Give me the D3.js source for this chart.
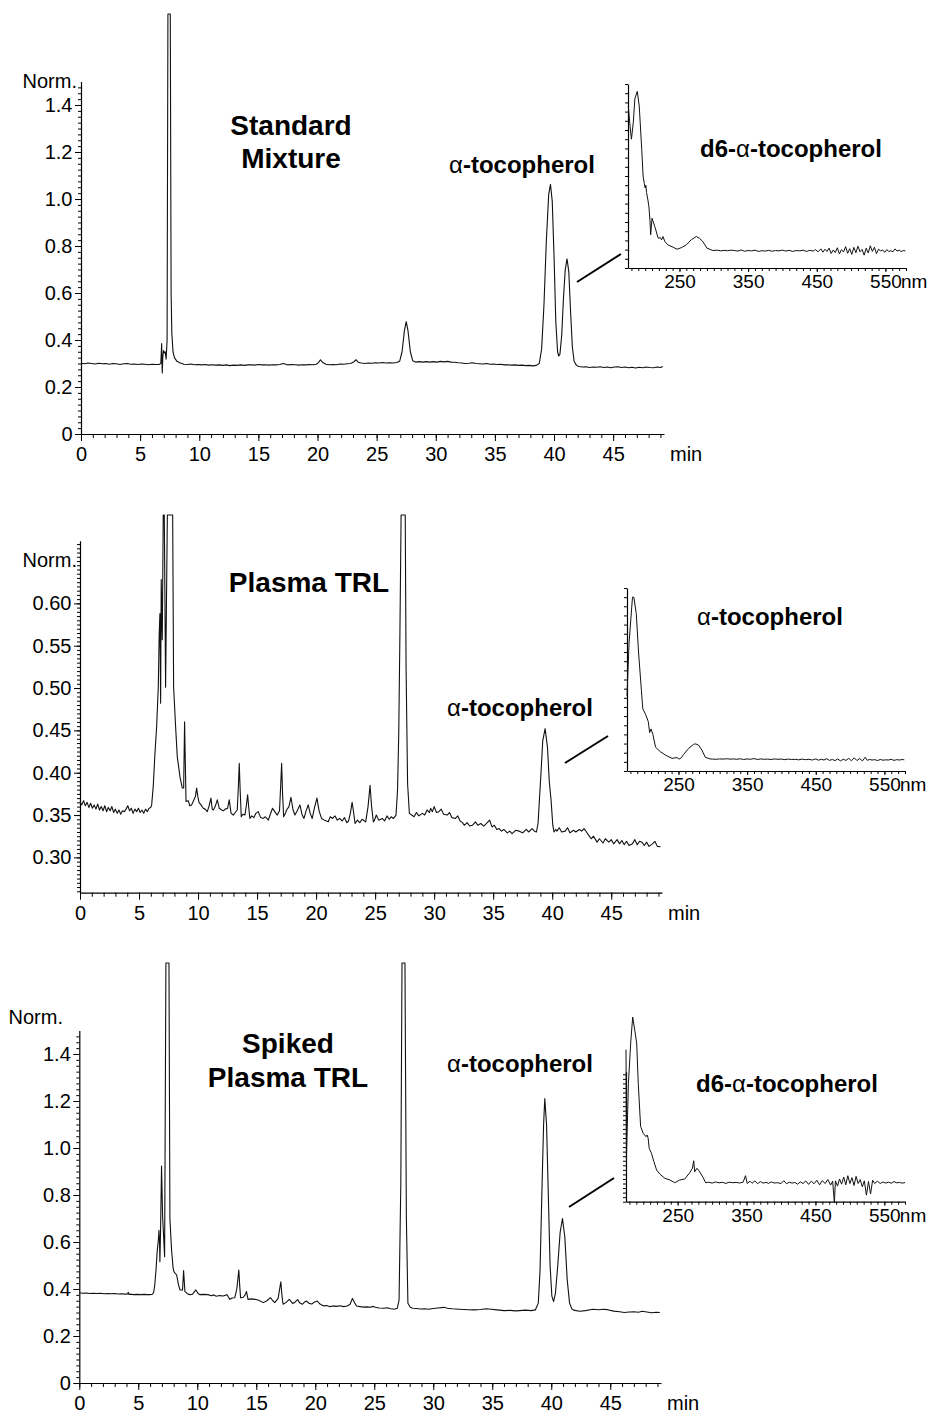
<!DOCTYPE html>
<html><head><meta charset="utf-8">
<script src="https://cdn.jsdelivr.net/npm/d3@7"></script>
<style>
body{margin:0;background:#fff}
svg text{font-family:"Liberation Sans",Arial,Helvetica,sans-serif;fill:#000}
</style></head><body>
<svg id="c" width="930" height="1414"></svg>
<script>
// ---------------- DATA ----------------
const timeTicks = [0,5,10,15,20,25,30,35,40,45];
const normTicks = [0,0.2,0.4,0.6,0.8,1.0,1.2,1.4];
const trlTicks = [0.30,0.35,0.40,0.45,0.50,0.55,0.60];
const nmTicks = [250,350,450,550];

// [time (min), absorbance (Norm.)]
const standardMixture = [[0,0.301],[0.3,0.299],[0.6,0.302],[0.9,0.300],[1.2,0.298],[1.5,0.301],[1.8,0.299],[2.1,0.300],[2.4,0.297],[2.7,0.300],[3.0,0.299],[3.3,0.296],[3.6,0.299],[3.9,0.300],[4.2,0.297],[4.5,0.298],[4.8,0.296],[5.1,0.298],[5.4,0.297],[5.7,0.295],[6.0,0.297],[6.3,0.296],[6.6,0.296],[6.75,0.300],[6.82,0.385],[6.87,0.260],[6.92,0.330],[6.98,0.355],[7.05,0.345],[7.12,0.350],[7.2,0.318],[7.28,0.400],[7.35,2.0],[7.55,2.0],[7.62,0.600],[7.68,0.430],[7.78,0.350],[7.9,0.325],[8.1,0.310],[8.4,0.302],[8.7,0.297],[9.0,0.296],[9.3,0.298],[9.6,0.295],[9.9,0.296],[10.2,0.294],[10.5,0.296],[10.8,0.293],[11.1,0.295],[11.4,0.293],[11.7,0.294],[12.0,0.292],[12.3,0.294],[12.6,0.291],[12.9,0.293],[13.2,0.292],[13.5,0.294],[13.8,0.292],[14.1,0.294],[14.4,0.295],[14.7,0.293],[15.0,0.296],[15.3,0.294],[15.6,0.295],[15.9,0.293],[16.2,0.295],[16.5,0.294],[16.8,0.296],[17.1,0.300],[17.25,0.298],[17.5,0.294],[17.8,0.296],[18.1,0.295],[18.4,0.293],[18.7,0.295],[19.0,0.294],[19.3,0.296],[19.6,0.295],[19.9,0.297],[20.1,0.305],[20.25,0.316],[20.45,0.304],[20.7,0.297],[21.0,0.295],[21.3,0.296],[21.6,0.295],[21.9,0.298],[22.2,0.297],[22.5,0.299],[22.8,0.300],[23.05,0.306],[23.25,0.316],[23.45,0.305],[23.7,0.302],[24.0,0.300],[24.3,0.302],[24.6,0.301],[24.9,0.303],[25.2,0.302],[25.5,0.304],[25.8,0.302],[26.1,0.303],[26.4,0.302],[26.7,0.304],[26.95,0.310],[27.15,0.350],[27.35,0.440],[27.5,0.478],[27.65,0.440],[27.85,0.350],[28.05,0.312],[28.3,0.306],[28.6,0.308],[28.9,0.306],[29.2,0.308],[29.5,0.306],[29.8,0.308],[30.1,0.306],[30.4,0.309],[30.7,0.307],[31.0,0.309],[31.3,0.306],[31.6,0.305],[31.9,0.303],[32.2,0.302],[32.5,0.300],[32.8,0.301],[33.1,0.303],[33.4,0.300],[33.7,0.299],[34.0,0.298],[34.3,0.300],[34.6,0.297],[34.9,0.298],[35.2,0.296],[35.5,0.297],[35.8,0.294],[36.1,0.295],[36.4,0.293],[36.7,0.294],[37.0,0.292],[37.3,0.293],[37.6,0.291],[37.9,0.292],[38.2,0.290],[38.5,0.292],[38.75,0.300],[38.95,0.360],[39.15,0.550],[39.35,0.820],[39.55,1.020],[39.7,1.062],[39.85,0.990],[40.0,0.760],[40.15,0.480],[40.3,0.350],[40.4,0.332],[40.5,0.340],[40.65,0.420],[40.8,0.580],[40.95,0.700],[41.1,0.745],[41.25,0.690],[41.4,0.520],[41.55,0.370],[41.7,0.310],[41.9,0.292],[42.1,0.287],[42.4,0.285],[42.7,0.286],[43.0,0.283],[43.3,0.285],[43.6,0.284],[43.9,0.286],[44.2,0.283],[44.5,0.285],[44.8,0.282],[45.1,0.285],[45.4,0.286],[45.7,0.283],[46.0,0.285],[46.3,0.282],[46.6,0.284],[46.9,0.281],[47.2,0.284],[47.5,0.282],[47.8,0.285],[48.1,0.283],[48.4,0.282],[48.7,0.285],[49.0,0.283],[49.2,0.287]];

const plasmaTRL = [[0,0.366],[0.15,0.362],[0.3,0.367],[0.45,0.361],[0.6,0.365],[0.75,0.359],[0.9,0.364],[1.05,0.358],[1.2,0.362],[1.35,0.357],[1.5,0.363],[1.65,0.356],[1.8,0.360],[1.95,0.355],[2.1,0.361],[2.25,0.354],[2.4,0.359],[2.55,0.355],[2.7,0.360],[2.85,0.353],[3.0,0.357],[3.15,0.352],[3.3,0.356],[3.45,0.351],[3.6,0.355],[3.75,0.354],[3.9,0.357],[4.05,0.361],[4.2,0.355],[4.35,0.358],[4.5,0.352],[4.65,0.357],[4.8,0.354],[4.95,0.358],[5.1,0.353],[5.25,0.356],[5.4,0.352],[5.55,0.357],[5.7,0.354],[5.85,0.358],[6.0,0.359],[6.07,0.362],[6.2,0.383],[6.35,0.423],[6.49,0.454],[6.63,0.501],[6.71,0.564],[6.77,0.588],[6.83,0.482],[6.88,0.628],[6.97,0.557],[7.05,1.0],[7.14,1.0],[7.25,0.501],[7.4,1.0],[7.85,1.0],[7.93,0.501],[8.1,0.454],[8.24,0.419],[8.47,0.395],[8.66,0.382],[8.78,0.382],[8.86,0.460],[8.98,0.366],[9.17,0.367],[9.3,0.361],[9.46,0.362],[9.65,0.368],[9.78,0.372],[9.88,0.382],[9.98,0.372],[10.08,0.365],[10.25,0.362],[10.44,0.358],[10.6,0.357],[10.78,0.354],[10.92,0.360],[11.09,0.370],[11.2,0.357],[11.29,0.356],[11.45,0.360],[11.63,0.368],[11.8,0.358],[12.0,0.356],[12.15,0.355],[12.3,0.357],[12.5,0.358],[12.64,0.368],[12.8,0.352],[12.98,0.350],[13.15,0.353],[13.32,0.356],[13.42,0.385],[13.49,0.411],[13.57,0.378],[13.66,0.348],[13.8,0.351],[13.97,0.350],[14.1,0.362],[14.2,0.374],[14.3,0.358],[14.39,0.346],[14.55,0.349],[14.73,0.347],[14.9,0.352],[15.1,0.354],[15.3,0.347],[15.52,0.346],[15.7,0.348],[15.95,0.344],[16.1,0.350],[16.31,0.358],[16.5,0.354],[16.71,0.350],[16.9,0.355],[17.0,0.385],[17.08,0.411],[17.16,0.375],[17.25,0.348],[17.4,0.352],[17.5,0.356],[17.7,0.360],[17.87,0.371],[18.05,0.356],[18.2,0.350],[18.4,0.355],[18.63,0.362],[18.8,0.351],[18.97,0.346],[19.15,0.355],[19.33,0.362],[19.5,0.352],[19.67,0.346],[19.85,0.358],[20.07,0.370],[20.25,0.355],[20.46,0.346],[20.7,0.344],[21.03,0.342],[21.2,0.348],[21.4,0.346],[21.6,0.349],[21.8,0.344],[22.0,0.346],[22.2,0.343],[22.4,0.347],[22.6,0.341],[22.75,0.343],[22.9,0.352],[23.05,0.365],[23.15,0.356],[23.3,0.340],[23.5,0.344],[23.7,0.341],[23.9,0.345],[24.2,0.342],[24.4,0.360],[24.57,0.385],[24.7,0.360],[24.85,0.342],[24.95,0.344],[25.1,0.350],[25.3,0.344],[25.6,0.346],[25.8,0.343],[26.0,0.349],[26.2,0.345],[26.35,0.348],[26.55,0.346],[26.77,0.350],[26.9,0.380],[27.0,0.446],[27.1,0.565],[27.2,1.0],[27.55,1.0],[27.62,0.525],[27.75,0.387],[27.9,0.352],[28.1,0.350],[28.3,0.348],[28.5,0.353],[28.7,0.349],[29.0,0.352],[29.2,0.350],[29.4,0.356],[29.6,0.353],[29.7,0.358],[29.85,0.354],[30.0,0.360],[30.2,0.353],[30.4,0.354],[30.6,0.357],[30.8,0.351],[31.1,0.350],[31.3,0.353],[31.5,0.347],[31.8,0.346],[32.0,0.349],[32.2,0.343],[32.4,0.341],[32.55,0.338],[32.8,0.341],[33.0,0.337],[33.25,0.338],[33.5,0.342],[33.7,0.338],[33.95,0.340],[34.2,0.337],[34.5,0.341],[34.7,0.344],[34.9,0.336],[35.1,0.338],[35.3,0.333],[35.5,0.334],[35.7,0.331],[35.9,0.333],[36.2,0.329],[36.4,0.331],[36.6,0.328],[36.9,0.332],[37.2,0.331],[37.5,0.329],[37.8,0.333],[38.0,0.330],[38.3,0.334],[38.5,0.331],[38.66,0.330],[38.8,0.340],[38.9,0.364],[39.05,0.400],[39.2,0.438],[39.4,0.452],[39.6,0.430],[39.75,0.390],[39.9,0.368],[40.05,0.338],[40.15,0.330],[40.3,0.333],[40.4,0.331],[40.6,0.335],[40.8,0.330],[41.1,0.331],[41.3,0.335],[41.5,0.329],[41.8,0.332],[42.0,0.330],[42.3,0.333],[42.5,0.331],[42.7,0.334],[42.9,0.330],[43.1,0.326],[43.3,0.322],[43.5,0.325],[43.8,0.318],[44.0,0.322],[44.3,0.317],[44.5,0.322],[44.8,0.318],[45.0,0.321],[45.2,0.316],[45.5,0.321],[45.7,0.316],[45.9,0.320],[46.1,0.315],[46.3,0.319],[46.5,0.314],[46.8,0.316],[47.0,0.321],[47.2,0.315],[47.4,0.319],[47.6,0.318],[47.8,0.314],[48.0,0.318],[48.2,0.313],[48.5,0.316],[48.7,0.319],[48.9,0.313],[49.17,0.3125]];

const spikedTRL = [[0,0.384],[0.3,0.382],[0.6,0.383],[0.9,0.381],[1.2,0.382],[1.5,0.381],[1.8,0.382],[2.1,0.380],[2.4,0.381],[2.7,0.380],[3.0,0.381],[3.3,0.379],[3.6,0.380],[3.9,0.378],[4.1,0.379],[4.15,0.386],[4.2,0.377],[4.4,0.378],[4.6,0.376],[4.9,0.377],[5.2,0.376],[5.5,0.377],[5.8,0.376],[6.0,0.376],[6.2,0.378],[6.3,0.385],[6.4,0.420],[6.5,0.480],[6.6,0.560],[6.7,0.608],[6.75,0.650],[6.8,0.600],[6.83,0.516],[6.88,0.630],[6.97,0.923],[7.06,0.708],[7.15,0.620],[7.23,0.537],[7.34,2.5],[7.6,2.5],[7.68,0.700],[7.82,0.566],[7.95,0.490],[8.02,0.474],[8.15,0.465],[8.25,0.460],[8.4,0.420],[8.53,0.396],[8.75,0.396],[8.84,0.478],[8.95,0.390],[9.15,0.380],[9.37,0.376],[9.6,0.378],[9.88,0.396],[10.05,0.382],[10.2,0.376],[10.5,0.377],[10.9,0.376],[11.2,0.371],[11.4,0.375],[11.6,0.369],[11.9,0.372],[12.2,0.370],[12.5,0.376],[12.65,0.365],[12.76,0.356],[12.95,0.362],[13.18,0.363],[13.35,0.400],[13.52,0.481],[13.6,0.410],[13.67,0.363],[13.9,0.365],[14.05,0.375],[14.17,0.389],[14.3,0.356],[14.6,0.358],[14.9,0.356],[15.2,0.352],[15.6,0.342],[15.9,0.350],[16.2,0.363],[16.4,0.350],[16.57,0.342],[16.85,0.360],[17.08,0.431],[17.18,0.370],[17.27,0.335],[17.5,0.342],[17.8,0.356],[18.1,0.338],[18.3,0.345],[18.5,0.355],[18.7,0.340],[18.9,0.335],[19.1,0.345],[19.25,0.349],[19.5,0.338],[19.7,0.336],[19.95,0.345],[20.15,0.349],[20.4,0.336],[20.7,0.328],[21.0,0.330],[21.2,0.325],[21.5,0.328],[21.8,0.326],[22.1,0.329],[22.4,0.325],[22.7,0.328],[22.95,0.335],[23.15,0.360],[23.35,0.340],[23.5,0.328],[23.8,0.325],[24.1,0.323],[24.4,0.324],[24.65,0.322],[24.9,0.326],[25.1,0.322],[25.4,0.319],[25.8,0.318],[26.1,0.320],[26.4,0.316],[26.7,0.314],[26.95,0.318],[27.1,0.353],[27.25,0.850],[27.35,2.5],[27.6,2.5],[27.72,0.700],[27.85,0.339],[28.05,0.322],[28.25,0.318],[28.6,0.317],[28.9,0.315],[29.3,0.316],[29.6,0.314],[30.0,0.317],[30.4,0.319],[30.9,0.322],[31.2,0.318],[31.6,0.316],[32.2,0.314],[32.6,0.313],[33.0,0.312],[33.5,0.311],[34.0,0.313],[34.5,0.316],[34.9,0.314],[35.4,0.311],[36.0,0.308],[36.5,0.309],[37.0,0.307],[37.3,0.308],[37.8,0.310],[38.3,0.308],[38.65,0.311],[38.9,0.340],[39.05,0.480],[39.2,0.800],[39.35,1.100],[39.45,1.210],[39.6,1.100],[39.75,0.800],[39.9,0.500],[40.05,0.370],[40.2,0.347],[40.35,0.380],[40.55,0.500],[40.75,0.640],[40.95,0.700],[41.15,0.620],[41.35,0.440],[41.55,0.340],[41.75,0.315],[41.9,0.310],[42.4,0.305],[42.9,0.308],[43.3,0.312],[43.55,0.314],[44.0,0.312],[44.5,0.314],[44.85,0.311],[45.3,0.306],[45.8,0.303],[46.2,0.300],[46.6,0.302],[47.0,0.303],[47.4,0.301],[47.7,0.305],[48.1,0.302],[48.5,0.299],[48.9,0.301],[49.2,0.300]];

// UV spectra: [wavelength (nm), relative absorbance]
const spectrumD6Standard = [[175.5,0.878],[178,0.77],[180,0.70],[182.7,0.79],[185,0.92],[188.5,0.96],[191.4,0.88],[195,0.645],[197,0.50],[198.7,0.46],[200,0.435],[201,0.45],[202,0.41],[204,0.37],[205.4,0.335],[207,0.26],[208,0.18],[210,0.27],[214,0.226],[219,0.162],[222,0.165],[224,0.153],[226,0.171],[228.6,0.144],[233,0.126],[240.7,0.113],[246.5,0.102],[253,0.111],[260,0.126],[267,0.153],[274.6,0.171],[279,0.162],[284,0.144],[290,0.108],[298.6,0.095],[305,0.097],[310,0.093],[315,0.096],[320,0.094],[325,0.097],[330,0.095],[335,0.092],[340,0.098],[345,0.091],[350,0.095],[355,0.093],[360,0.097],[365,0.090],[370,0.094],[375,0.092],[380,0.096],[385,0.091],[390,0.095],[395,0.093],[400,0.097],[405,0.092],[410,0.096],[415,0.090],[420,0.095],[425,0.093],[430,0.097],[435,0.090],[440,0.096],[445,0.092],[448,0.100],[452,0.088],[456,0.104],[459,0.086],[462,0.102],[465,0.090],[468,0.108],[471,0.079],[474,0.098],[477,0.084],[480,0.110],[483,0.076],[486,0.100],[489,0.087],[492,0.116],[495,0.080],[498,0.105],[501,0.074],[504,0.112],[507,0.083],[510,0.118],[513,0.088],[516,0.101],[519,0.070],[522,0.108],[525,0.082],[528,0.121],[531,0.090],[534,0.113],[537,0.078],[540,0.102],[543,0.093],[546,0.098],[549,0.085],[552,0.100],[555,0.090],[558,0.094],[561,0.088],[564,0.104],[567,0.092],[570,0.097],[573,0.089],[576,0.095],[579,0.093]];

const spectrumAlphaTRL = [[175,0.41],[178,0.70],[183,0.95],[185,0.95],[188.5,0.86],[192,0.64],[196,0.44],[198,0.34],[202,0.31],[206,0.27],[208,0.21],[210,0.23],[212.7,0.20],[216.6,0.13],[220,0.118],[223.8,0.105],[231,0.087],[240.6,0.069],[245,0.072],[248,0.073],[251,0.065],[254,0.072],[257.6,0.091],[265,0.124],[272,0.146],[275,0.148],[279,0.142],[284,0.115],[289,0.075],[296,0.066],[300,0.065],[305,0.064],[310,0.066],[315,0.065],[320,0.067],[325,0.065],[330,0.066],[335,0.064],[340,0.067],[345,0.063],[350,0.066],[355,0.064],[360,0.068],[365,0.063],[370,0.066],[375,0.064],[380,0.065],[385,0.063],[390,0.066],[395,0.064],[400,0.065],[405,0.062],[410,0.065],[415,0.063],[420,0.064],[425,0.061],[430,0.065],[435,0.062],[440,0.064],[445,0.060],[450,0.066],[454,0.059],[458,0.064],[462,0.060],[466,0.067],[470,0.058],[474,0.063],[478,0.057],[482,0.066],[486,0.055],[490,0.064],[494,0.058],[498,0.069],[502,0.056],[506,0.072],[510,0.057],[514,0.068],[518,0.055],[522,0.075],[525,0.058],[528,0.063],[532,0.060],[536,0.062],[540,0.057],[544,0.063],[548,0.059],[552,0.061],[556,0.060],[560,0.064],[564,0.058],[568,0.062],[572,0.060],[576,0.063],[579,0.061]];

const spectrumD6Spiked = [[175,1.17],[175.6,0.33],[178.5,0.91],[181.8,1.22],[184.7,1.42],[188,1.31],[190.5,1.22],[192.8,0.91],[196.2,0.58],[200,0.526],[204,0.50],[205.8,0.513],[207.2,0.487],[208.7,0.41],[212,0.372],[215.5,0.308],[219.4,0.244],[224,0.213],[231.4,0.18],[238.6,0.167],[245.8,0.146],[253,0.167],[260.3,0.175],[267.5,0.223],[271.4,0.257],[273.3,0.315],[274.7,0.23],[278,0.257],[282,0.23],[286.7,0.188],[290.6,0.146],[295,0.150],[300,0.143],[305,0.152],[310,0.145],[315,0.149],[320,0.141],[325,0.150],[330,0.146],[335,0.148],[340,0.144],[345,0.150],[348.5,0.200],[351,0.140],[355,0.158],[358,0.142],[362,0.160],[366,0.138],[370,0.155],[374,0.143],[378,0.149],[382,0.141],[386,0.152],[390,0.144],[395,0.146],[400,0.140],[404,0.162],[408,0.138],[412,0.150],[416,0.143],[420,0.148],[424,0.135],[428,0.152],[432,0.140],[436,0.160],[440,0.133],[444,0.158],[448,0.138],[452,0.165],[456,0.130],[460,0.162],[464,0.140],[468,0.170],[472,0.128],[475,0.158],[477.5,-0.010],[479,0.160],[482,0.120],[485,0.175],[488,0.135],[491,0.190],[494,0.130],[497,0.200],[500,0.140],[503,0.185],[506,0.125],[509,0.195],[512,0.140],[515,0.170],[518,0.115],[521,0.160],[524,0.050],[527,0.155],[530,0.060],[533,0.165],[536,0.140],[540,0.158],[544,0.140],[548,0.152],[552,0.143],[556,0.150],[560,0.142],[564,0.155],[568,0.145],[572,0.148],[576,0.143],[580,0.147]];

// ---------------- DRAWING ----------------
const svg = d3.select("#c");
const FONT = '"Liberation Sans",Arial,Helvetica,sans-serif';

function styleAxis(g, size){
  g.attr("font-size", size).attr("font-family", FONT);
  g.selectAll("path.domain").attr("stroke","#000").attr("stroke-width",1.2);
  g.selectAll(".tick line").attr("stroke","#000").attr("stroke-width",1);
  g.selectAll(".tick text").attr("fill","#000");
}

function chromatogram(cfg, data){
  const x = d3.scaleLinear().domain([0,49.3]).range([cfg.x0, cfg.x1]);
  const y = d3.scaleLinear().domain(cfg.yDom).range([cfg.yBot, cfg.yTop]);
  const g = svg.append("g");
  g.append("g").attr("transform",`translate(0,${cfg.yBot})`)
    .call(d3.axisBottom(x).tickValues(d3.range(0,50,1)).tickSize(4).tickFormat(""))
    .call(a=>a.select(".domain").remove()).call(a=>styleAxis(a,20));
  const xa = g.append("g").attr("transform",`translate(0,${cfg.yBot})`)
    .call(d3.axisBottom(x).tickValues(timeTicks).tickSize(7).tickSizeOuter(0).tickPadding(6));
  styleAxis(xa,20);
  xa.append("text").attr("x", cfg.x1+6).attr("y",13).attr("dy","0.71em")
    .attr("text-anchor","start").attr("fill","#000").text("min");
  g.append("g").attr("transform",`translate(${cfg.x0},0)`)
    .call(d3.axisLeft(y).tickValues(d3.range(cfg.minor[0], cfg.yDom[1], cfg.minor[1])).tickSize(3).tickFormat(""))
    .call(a=>a.select(".domain").remove()).call(a=>styleAxis(a,20));
  const ya = g.append("g").attr("transform",`translate(${cfg.x0},0)`)
    .call(d3.axisLeft(y).tickValues(cfg.ticks).tickFormat(cfg.fmt).tickSize(6).tickSizeOuter(0).tickPadding(2.5));
  styleAxis(ya,20);
  svg.append("text").attr("x",cfg.norm[0]).attr("y",cfg.norm[1]).attr("dy","0.35em")
    .attr("text-anchor","end").attr("font-size",20).text("Norm.");
  const line = d3.line().x(d=>x(d[0])).y(d=>Math.max(cfg.clipTop, y(d[1])));
  g.append("path").datum(data).attr("d",line).attr("fill","none")
    .attr("stroke","#111").attr("stroke-width",1.1).attr("stroke-linejoin","round");
}

function spectrum(cfg, data){
  const x = d3.scaleLinear().domain([175,580]).range([cfg.x0, cfg.x1]);
  const y = d3.scaleLinear().domain([0,1]).range([cfg.yBot, cfg.yTop]);
  const g = svg.append("g");
  g.append("g").attr("transform",`translate(0,${cfg.yBot})`)
    .call(d3.axisBottom(x).tickValues(d3.range(180,581,10)).tickSize(3).tickFormat(""))
    .call(a=>a.select(".domain").remove()).call(a=>styleAxis(a,19));
  const xa = g.append("g").attr("transform",`translate(0,${cfg.yBot})`)
    .call(d3.axisBottom(x).tickValues(nmTicks).tickSize(4).tickSizeOuter(0).tickPadding(3));
  styleAxis(xa,19);
  xa.append("text").attr("x", x(550)+15.5).attr("y",7).attr("dy","0.71em")
    .attr("text-anchor","start").attr("fill","#000").text("nm");
  const ya = g.append("g").attr("transform",`translate(${cfg.x0},0)`)
    .call(d3.axisLeft(y).tickValues(d3.range(0,1.0001,cfg.yStep)).tickSize(3).tickSizeOuter(0).tickFormat(""));
  styleAxis(ya,19);
  const line = d3.line().x(d=>x(d[0])).y(d=>y(d[1]));
  g.append("path").datum(data).attr("d",line).attr("fill","none")
    .attr("stroke","#111").attr("stroke-width",1).attr("stroke-linejoin","round");
}

function label(txt, x, y, size){
  svg.append("text").attr("x",x).attr("y",y).attr("text-anchor","middle")
    .attr("font-size",size).attr("font-weight","bold").text(txt);
}
function alphaLabel(prefix, x, y){
  const t = svg.append("text").attr("x",x).attr("y",y).attr("text-anchor","middle")
    .attr("font-size",24).attr("font-weight","bold");
  if(prefix) t.append("tspan").text(prefix);
  t.append("tspan").attr("font-weight","normal").text("α");
  t.append("tspan").text("-tocopherol");
}
function connector(x1,y1,x2,y2){
  svg.append("line").attr("x1",x1).attr("y1",y1).attr("x2",x2).attr("y2",y2)
    .attr("stroke","#000").attr("stroke-width",2);
}

const fmt1 = d => d===0 ? "0" : d3.format(".1f")(d);
const fmt2 = d3.format(".2f");

// Panel 1
chromatogram({x0:81,x1:664,yDom:[0,1.5],yBot:434,yTop:81.5,clipTop:14,ticks:normTicks,fmt:fmt1,minor:[0,0.025],norm:[77,81]}, standardMixture);
spectrum({x0:628,x1:906,yBot:268,yTop:84,yStep:0.05}, spectrumD6Standard);
label("Standard",291,135,28); label("Mixture",291,168,28);
alphaLabel("",522,173);
alphaLabel("d6-",791,157);
connector(577,282,621,254);

// Panel 2
chromatogram({x0:80,x1:662,yDom:[0.2583,0.674],yBot:892.7,yTop:540.7,clipTop:515,ticks:trlTicks,fmt:fmt2,minor:[0.26,0.005],norm:[77,560]}, plasmaTRL);
spectrum({x0:627,x1:905,yBot:771,yTop:588,yStep:0.05}, spectrumAlphaTRL);
label("Plasma TRL",309,592,28);
alphaLabel("",520,716);
alphaLabel("",770,625);
connector(565,763,608,736);

// Panel 3
chromatogram({x0:79.3,x1:661,yDom:[0,1.5],yBot:1383,yTop:1030.5,clipTop:963,ticks:normTicks,fmt:fmt1,minor:[0,0.025],norm:[63,1017]}, spikedTRL);
spectrum({x0:626,x1:905,yBot:1201.7,yTop:1071.7,yStep:0.035}, spectrumD6Spiked);
label("Spiked",288,1053,28); label("Plasma TRL",288,1087,28);
alphaLabel("",520,1072);
alphaLabel("d6-",787,1092);
connector(569,1207,614,1178);
</script>
</body></html>
